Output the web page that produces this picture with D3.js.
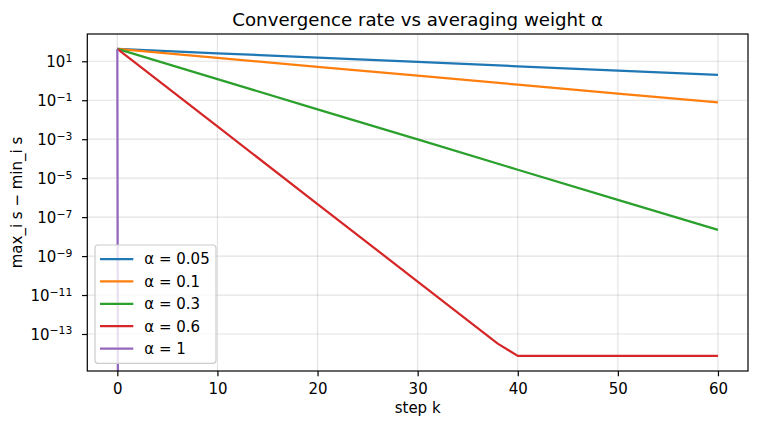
<!DOCTYPE html>
<html>
<head>
<meta charset="utf-8">
<script src="https://cdn.jsdelivr.net/npm/d3@7"></script>
<style>
  body { margin: 0; background: #fff; }
  svg { font-family: "DejaVu Sans", sans-serif; display: block; }
</style>
</head>
<body>
<svg id="chart" width="758" height="429"></svg>
<script>
// values (log-scale y)
const labels = ["α = 0.05", "α = 0.1", "α = 0.3", "α = 0.6", "α = 1"];
const colors = ["#1f77b4", "#ff7f0e", "#2ca02c", "#d62728", "#9467bd"];

const steps = [0, 10, 20, 30, 40, 50, 60];
const blue = [43, 25.7, 15.4, 9.2, 5.5, 3.3, 1.98];
const orange = [43, 15.0, 5.2, 1.82, 0.63, 0.22, 0.077];
const green = [43, 1.21, 0.034, 9.7e-4, 2.7e-5, 7.7e-7, 2.2e-8];
const redSteps = [0, 10, 20, 30, 38, 40, 50, 60];
const red = [43, 4.5e-3, 4.7e-7, 4.9e-11, 3.2e-14, 7.5e-15, 7.5e-15, 7.5e-15];
const purpleSteps = [0, 1, 60];
const purple = [43, 0, 0];

const xTicks = [0, 10, 20, 30, 40, 50, 60];
const yTickExps = [1, -1, -3, -5, -7, -9, -11, -13];

const series = [
  { steps: steps, vals: blue },
  { steps: steps, vals: orange },
  { steps: steps, vals: green },
  { steps: redSteps, vals: red },
  { steps: purpleSteps, vals: purple }
];

const svg = d3.select("#chart");
const pLeft = 87.3, pRight = 748, pTop = 34, pBottom = 371;
const fs = 15;

const x = d3.scaleLinear().domain([-3, 63]).range([pLeft, pRight]);
const y = d3.scaleLog().domain([Math.pow(10, -14.9), Math.pow(10, 2.4)]).range([pBottom, pTop]);

svg.append("defs").append("clipPath").attr("id", "plotclip")
  .append("rect").attr("x", pLeft).attr("y", pTop)
  .attr("width", pRight - pLeft).attr("height", pBottom - pTop);

// grid
const grid = svg.append("g");
grid.selectAll(".gx").data(xTicks).enter().append("line")
  .attr("x1", d => x(d)).attr("x2", d => x(d))
  .attr("y1", pTop).attr("y2", pBottom)
  .attr("stroke", "#b0b0b0").attr("stroke-opacity", 0.35).attr("stroke-width", 1.2);
grid.selectAll(".gy").data(yTickExps).enter().append("line")
  .attr("y1", d => y(Math.pow(10, d))).attr("y2", d => y(Math.pow(10, d)))
  .attr("x1", pLeft).attr("x2", pRight)
  .attr("stroke", "#b0b0b0").attr("stroke-opacity", 0.35).attr("stroke-width", 1.2);

// lines
const line = d3.line()
  .x(d => x(d[0]))
  .y(d => y(Math.max(d[1], 1e-300)));

svg.append("g").attr("clip-path", "url(#plotclip)")
  .selectAll("path").data(series).enter().append("path")
  .attr("d", s => line(s.steps.map((k, i) => [k, s.vals[i]])))
  .attr("fill", "none")
  .attr("stroke", (s, i) => colors[i])
  .attr("stroke-width", 2.25)
  .attr("stroke-linejoin", "round")
  .attr("stroke-linecap", "butt");

// axes
const xAxis = d3.axisBottom(x).tickValues(xTicks).tickSize(5.25).tickPadding(7);
const gx = svg.append("g").attr("transform", `translate(0,${pBottom})`).call(xAxis);
gx.select(".domain").remove();
gx.selectAll("line").attr("stroke", "#000").attr("stroke-width", 1.2);
gx.selectAll("text").attr("font-size", fs).attr("fill", "#000")
  .attr("font-family", "DejaVu Sans");

const yAxis = d3.axisLeft(y).tickValues(yTickExps.map(e => Math.pow(10, e)))
  .tickSize(5.25).tickFormat("");
const gy = svg.append("g").attr("transform", `translate(${pLeft},0)`).call(yAxis);
gy.select(".domain").remove();
gy.selectAll("line").attr("stroke", "#000").attr("stroke-width", 1.2);
gy.selectAll(".tick").each(function(d) {
  const e = Math.round(Math.log10(d));
  d3.select(this).select("text").remove();
  const t = d3.select(this).append("text")
    .attr("font-size", fs).attr("fill", "#000").attr("font-family", "DejaVu Sans")
    .attr("text-anchor", "start").attr("y", 0).attr("dy", "0.36em");
  t.append("tspan").text("10");
  t.append("tspan").attr("dy", "-0.5em").attr("font-size", "72%")
    .text(e < 0 ? "\u2212" + (-e) : String(e));
  const w = t.node().getComputedTextLength();
  t.attr("x", -15 - w);
});

// frame
svg.append("rect").attr("x", pLeft).attr("y", pTop)
  .attr("width", pRight - pLeft).attr("height", pBottom - pTop)
  .attr("fill", "none").attr("stroke", "#000").attr("stroke-width", 1.2);

// labels
svg.append("text").attr("x", (pLeft + pRight) / 2).attr("y", 25.5)
  .attr("text-anchor", "middle").attr("font-size", 18.2)
  .text("Convergence rate vs averaging weight α");
svg.append("text").attr("x", (pLeft + pRight) / 2).attr("y", 413)
  .attr("text-anchor", "middle").attr("font-size", fs)
  .text("step k");
svg.append("text")
  .attr("transform", `translate(22,${(pTop + pBottom) / 2}) rotate(-90)`)
  .attr("text-anchor", "middle").attr("font-size", fs)
  .text("max_i s \u2212 min_i s");

// legend
const lg = svg.append("g");
lg.append("rect").attr("x", 95).attr("y", 245).attr("width", 121).attr("height", 118.3)
  .attr("rx", 3).attr("fill", "#fff").attr("fill-opacity", 0.8)
  .attr("stroke", "#cccccc").attr("stroke-width", 1.2);
const rows = lg.selectAll(".row").data(labels).enter().append("g")
  .attr("transform", (d, i) => `translate(0,${259 + i * 22.4})`);
rows.append("line").attr("x1", 100).attr("x2", 133.3).attr("y1", 0).attr("y2", 0)
  .attr("stroke", (d, i) => colors[i]).attr("stroke-width", 2.25);
rows.append("text").attr("x", 144.3).attr("y", 0).attr("dy", "0.36em")
  .attr("font-size", fs).text(d => d);
</script>
</body>
</html>
